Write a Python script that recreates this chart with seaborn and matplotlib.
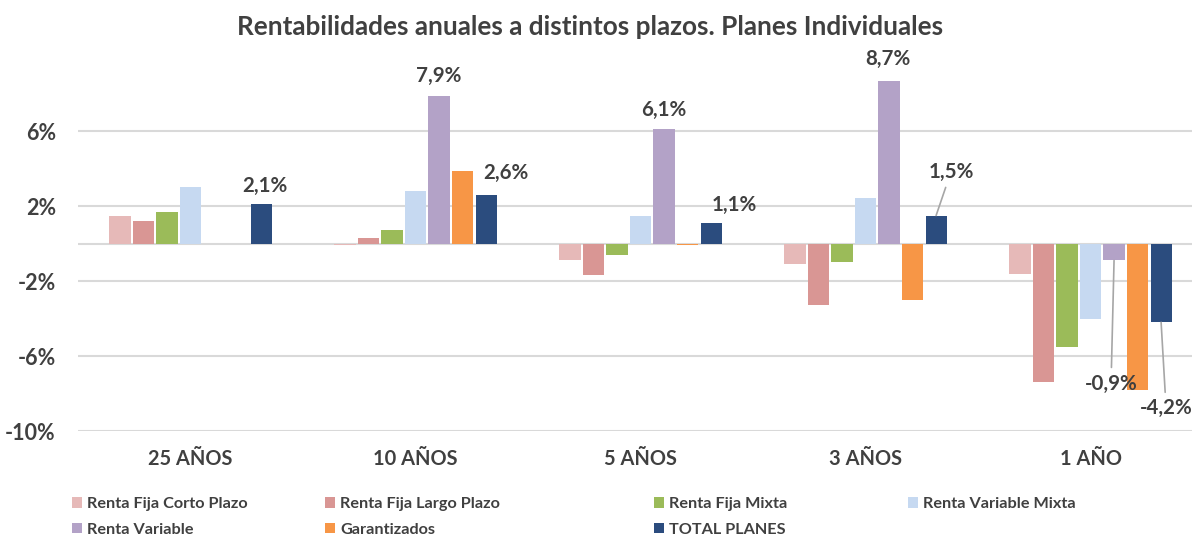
import pandas as pd
import matplotlib.pyplot as plt
from matplotlib.patches import Patch
import seaborn as sns

# data (% annual returns)
plazos = ['25 AÑOS', '10 AÑOS', '5 AÑOS', '3 AÑOS', '1 AÑO']
series = ['Renta Fija Corto Plazo', 'Renta Fija Largo Plazo', 'Renta Fija Mixta',
          'Renta Variable Mixta', 'Renta Variable', 'Garantizados', 'TOTAL PLANES']
colores = ['#E6B9B8', '#D99694', '#9BBB59', '#C6D9F1', '#B3A2C7', '#F79646', '#2B4C7E']

rf_corto = [1.45, -0.1, -0.9, -1.1, -1.6]
rf_largo = [1.2, 0.3, -1.7, -3.3, -7.4]
rf_mixta = [1.7, 0.7, -0.6, -1.0, -5.5]
rv_mixta = [3.0, 2.8, 1.5, 2.45, -4.0]
rv = [None, 7.9, 6.1, 8.7, -0.9]
garantizados = [None, 3.9, -0.1, -3.0, -7.8]
total = [2.1, 2.6, 1.1, 1.5, -4.2]

valores = [rf_corto, rf_largo, rf_mixta, rv_mixta, rv, garantizados, total]
rows = []
for s, vals in zip(series, valores):
    for p, v in zip(plazos, vals):
        if v is not None:
            rows.append({'plazo': p, 'serie': s, 'valor': v})
df = pd.DataFrame(rows)

# labelled bars: (plazo, serie, dx, dy in pixels, leader line)
etiquetas = [
    ('25 AÑOS', 'TOTAL PLANES', 4, 18, False),
    ('10 AÑOS', 'Renta Variable', 0, 20, False),
    ('10 AÑOS', 'TOTAL PLANES', 20, 22, False),
    ('5 AÑOS', 'Renta Variable', 0, 19, False),
    ('5 AÑOS', 'TOTAL PLANES', 23, 18, False),
    ('3 AÑOS', 'Renta Variable', -1, 22, False),
    ('3 AÑOS', 'TOTAL PLANES', 15, 44, True),
    ('1 AÑO', 'Renta Variable', -3, -123, True),
    ('1 AÑO', 'TOTAL PLANES', 5, -86, True),
]

sns.set_style('white')
plt.rcParams['font.family'] = ['Lato', 'DejaVu Sans']
txt = '#404040'

fig = plt.figure(figsize=(11.92, 5.35), dpi=100)
ax = fig.add_axes([78 / 1192, 104 / 535, 1114 / 1192, 365.4 / 535])

sns.barplot(data=df, x='plazo', y='valor', hue='serie', order=plazos, hue_order=series,
            palette=colores, saturation=1, width=0.732, gap=0.1, linewidth=0,
            legend=False, ax=ax, zorder=3)

ax.set_ylim(-10, 9.5)
ax.set_xlim(-0.5, 4.451)
ax.set_yticks([-10, -6, -2, 2, 6])
ax.set_yticklabels(['-10%', '-6%', '-2%', '2%', '6%'])
ax.yaxis.grid(True, color='#D9D9D9', lw=1.5, zorder=0)
ax.axhline(0, color='#D9D9D9', lw=1.5, zorder=1)
sns.despine(ax=ax, left=True, bottom=True)
ax.set_xlabel('')
ax.set_ylabel('')
ax.tick_params(axis='y', length=0, pad=16, labelsize=15.5, labelcolor=txt)
ax.tick_params(axis='x', length=0, pad=13, labelsize=14.4, labelcolor=txt)
for lab in ax.get_xticklabels() + ax.get_yticklabels():
    lab.set_fontweight('bold')

# data labels, positioned from the drawn bars
for plazo, serie, dx, dy, linea in etiquetas:
    cont = ax.containers[series.index(serie)]
    ci = plazos.index(plazo)
    for bar in cont:
        xc = bar.get_x() + bar.get_width() / 2
        if round(xc) == ci:
            v = bar.get_height()
            texto = f'{v:.1f}%'.replace('.', ',')
            props = dict(arrowstyle='-', color='#A6A6A6', lw=1.2, shrinkB=0) if linea else None
            ax.annotate(texto, xy=(xc, v), xytext=(dx, dy), textcoords='offset pixels',
                        ha='center', va='center', fontsize=14.8, fontweight='bold',
                        color=txt, arrowprops=props)

fig.text(590 / 1192, 1 - 27 / 535,
         'Rentabilidades anuales a distintos plazos. Planes Individuales',
         ha='center', va='center', fontsize=18.8, fontweight='bold', color=txt)

# legend laid out in four columns like the original
columnas = [[0, 4], [1, 5], [2, 6], [3]]
col_x = [72, 325, 654, 908]
for idx, x in zip(columnas, col_x):
    handles = [Patch(facecolor=colores[i], edgecolor='none', label=series[i]) for i in idx]
    leg = fig.legend(handles=handles, loc='upper left', bbox_to_anchor=(x / 1192, 1 - 497 / 535),
                     frameon=False, borderpad=0, borderaxespad=0, handlelength=0.63,
                     handleheight=0.63, handletextpad=0.32, labelspacing=0.72,
                     prop={'weight': 'bold', 'size': 11.7})
    for t in leg.get_texts():
        t.set_color(txt)

fig.savefig('out.png', dpi=100)
